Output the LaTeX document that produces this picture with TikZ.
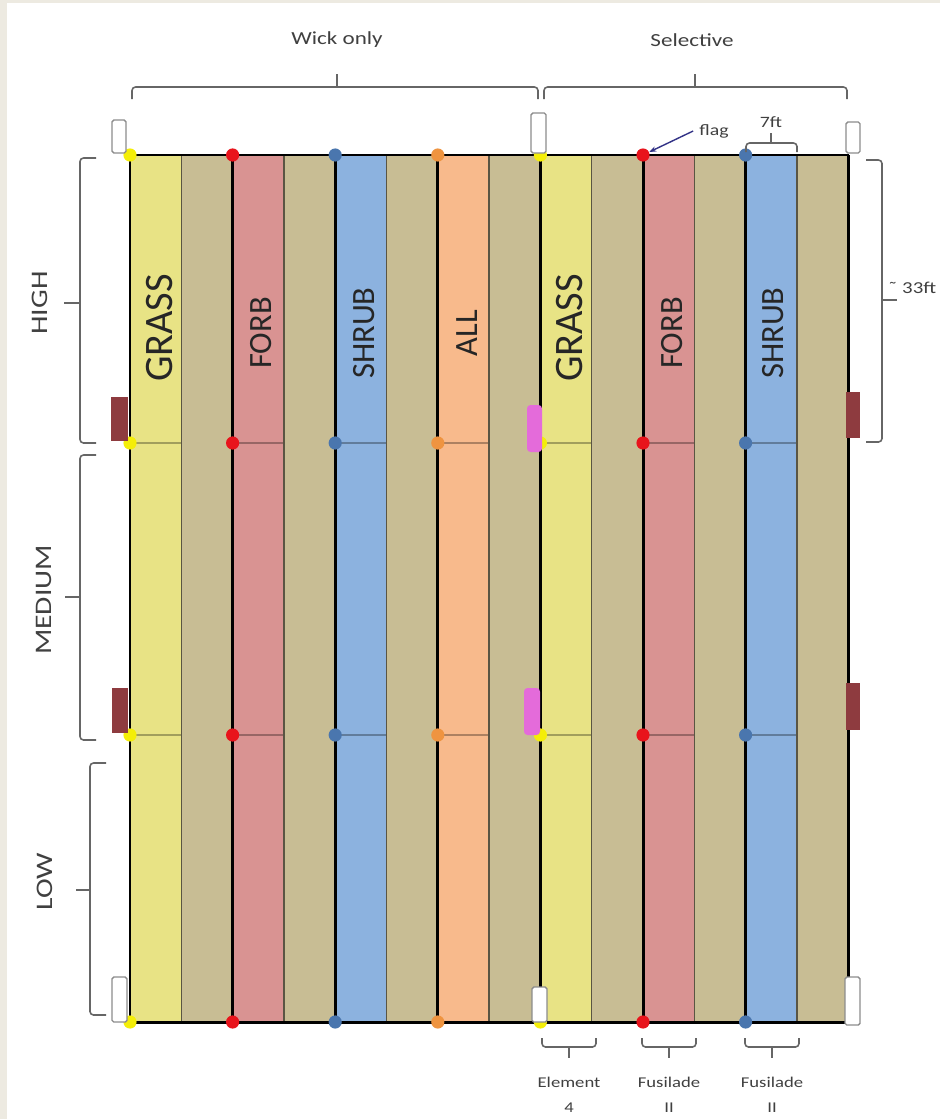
\documentclass[tikz,border=0pt]{standalone}
\usepackage{fontspec}
\setmainfont{Carlito}[FakeStretch=1.25]
\newfontfamily\plotfont{Carlito}
\usetikzlibrary{positioning,arrows.meta}

\definecolor{pagebg}{HTML}{EDEAE1}
\definecolor{grass}{HTML}{E8E385}
\definecolor{tan}{HTML}{C8BD94}
\definecolor{forb}{HTML}{D99392}
\definecolor{shrub}{HTML}{8CB2DF}
\definecolor{allplot}{HTML}{F8BA8C}
\definecolor{dotyellow}{HTML}{F4EE08}
\definecolor{dotred}{HTML}{E8141C}
\definecolor{dotblue}{HTML}{4A76AE}
\definecolor{dotorange}{HTML}{EF9440}
\definecolor{maroon}{HTML}{8E3B3F}
\definecolor{magenta}{HTML}{E46BDA}
\definecolor{labelgray}{HTML}{404040}

\begin{document}
\begin{tikzpicture}[
    x=0.02cm, y=-0.02cm,
    thickline/.style={line width=1.7pt, black},
    thinline/.style={line width=0.8pt, black!55!tan},
    midline/.style={line width=1.2pt, black, opacity=0.3},
    flagdot/.style={circle, inner sep=0pt, minimum size=7.5pt},
    post/.style={draw=black!45, fill=white, line width=0.8pt, rounded corners=1pt},
    bracket/.style={draw=black!60, line width=0.9pt, rounded corners=2pt},
    plotlabel/.style={rotate=90, inner sep=0pt, text=black!85, font=\plotfont\fontsize{18.5}{18.5}\selectfont},
    sidelabel/.style={rotate=90, text=labelgray, font=\fontsize{13.5}{13.5}\selectfont},
    toplabel/.style={text=labelgray, font=\fontsize{10.5}{10.5}\selectfont},
    smalllabel/.style={text=labelgray, font=\fontsize{9}{9}\selectfont},
    herblabel/.style={text=labelgray, align=center, font=\fontsize{8.5}{14}\selectfont}
]
    \useasboundingbox (0,0) rectangle (940,1119);
    \fill[pagebg] (0,0) rectangle (940,1119);
    \fill[white] (7,3) rectangle (940,1119);

    % strips
    \foreach \i/\c in {0/grass,1/tan,2/forb,3/tan,4/shrub,5/tan,6/allplot,7/tan,
                       8/grass,9/tan,10/forb,11/tan,12/shrub,13/tan}
        \fill[\c] ({130+\i*51.3},155) rectangle ({130+(\i+1)*51.3},1022);

    % block boundaries
    \foreach \i in {0,...,6} {
        \draw[midline] ({130+\i*102.6},443) -- ({181.3+\i*102.6},443);
        \draw[midline] ({130+\i*102.6},735) -- ({181.3+\i*102.6},735);
    }

    \foreach \i in {0,...,6} {
        \draw[thinline] ({181.3+\i*102.6},155) -- ({181.3+\i*102.6},1022);
        \draw[thickline] ({130+\i*102.6},155) -- ({130+\i*102.6},1022);
    }
    \draw[thickline] (848.2,155) -- (848.2,1022);
    \draw[thickline] (129,155) -- (849,155);
    \draw[thickline] (129,1022) -- (849,1022);

    % flags
    \foreach \c/\col in {0/dotyellow,1/dotred,2/dotblue,3/dotorange,4/dotyellow,5/dotred,6/dotblue}
        \foreach \r/\yy in {0/155,1/443,2/735,3/1022}
            \node[flagdot, fill=\col] (d\c-\r) at ({130+\c*102.6},\yy) {};

    % posts
    \draw[post] (112,120) rectangle (126,153);
    \draw[post] (531,113) rectangle (546,153);
    \draw[post] (846,122) rectangle (860,153);
    \draw[post] (112,977) rectangle (127,1022);
    \draw[post] (532,987) rectangle (547,1022);
    \draw[post] (845,977) rectangle (860,1025);

    \fill[maroon] (111,397) rectangle (128,441);
    \fill[maroon] (112,688) rectangle (128,733);
    \fill[maroon] (846,392) rectangle (860,438);
    \fill[maroon] (846,683) rectangle (860,730);
    \fill[magenta, rounded corners=2pt] (527,405) rectangle (542,452);
    \fill[magenta, rounded corners=2pt] (524,688) rectangle (540,735);

    % plot labels
    \node[plotlabel, font=\plotfont\fontsize{23}{23}\selectfont] (grass1) at (160,328) {GRASS};
    \node[plotlabel] (forb1) at (261,333) {FORB};
    \node[plotlabel] (shrub1) at (364,333) {SHRUB};
    \node[plotlabel] (all1) at (467,333) {ALL};
    \node[plotlabel, font=\plotfont\fontsize{23}{23}\selectfont] (grass2) at (570,328) {GRASS};
    \node[plotlabel] (forb2) at (672,333) {FORB};
    \node[plotlabel] (shrub2) at (773,333) {SHRUB};

    % top brackets
    \draw[bracket] (132,99) -- (132,87) -- (538,87) -- (538,99);
    \draw[bracket] (337,87) -- (337,74);
    \draw[bracket] (544,99) -- (544,87) -- (847,87) -- (847,99);
    \draw[bracket] (695,87) -- (695,74);
    \node[toplabel] (wick) at (337,40) {Wick only};
    \node[toplabel] (selective) at (692,40) {Selective};

    % side brackets
    \draw[bracket] (96,158) -- (80,158) -- (80,443) -- (96,443);
    \draw[bracket] (80,303) -- (64,303);
    \draw[bracket] (96,455) -- (80,455) -- (80,740) -- (96,740);
    \draw[bracket] (80,597) -- (65,597);
    \draw[bracket] (106,763) -- (90,763) -- (90,1015) -- (106,1015);
    \draw[bracket] (90,890) -- (76,890);
    \node[sidelabel] (high) at (40,303) {HIGH};
    \node[sidelabel] (medium) at (44,600) {MEDIUM};
    \node[sidelabel] (low) at (45,882) {LOW};

    \draw[bracket] (866,160) -- (882,160) -- (882,442) -- (866,442);
    \draw[bracket] (882,300) -- (897,300);
    \node[toplabel, anchor=west, inner sep=1pt, font=\fontsize{9.5}{9.5}\selectfont] (length) at (886,288) {˜ 33ft};

    % width and flag
    \draw[bracket] (746,152) -- (746,143) -- (797,143) -- (797,152);
    \draw[bracket] (771,143) -- (771,133);
    \node[smalllabel] (width) at (771,122) {7ft};
    \node[smalllabel] (flag) at (714,131) {flag};
    \draw[-{Stealth[length=4pt]}, line width=0.8pt, black!45!blue!60!gray] (flag.west) -- (d5-0);

    % herbicides
    \foreach \x in {569,669,772} {
        \draw[bracket] ({\x-27},1038) -- ({\x-27},1047) -- ({\x+27},1047) -- ({\x+27},1038);
        \draw[bracket] (\x,1047) -- (\x,1058);
    }
    \node[herblabel] (element) at (569,1095) {Element\\4};
    \node[herblabel] (fusilade1) at (669,1095) {Fusilade\\II};
    \node[herblabel] (fusilade2) at (772,1095) {Fusilade\\II};
\end{tikzpicture}
\end{document}
